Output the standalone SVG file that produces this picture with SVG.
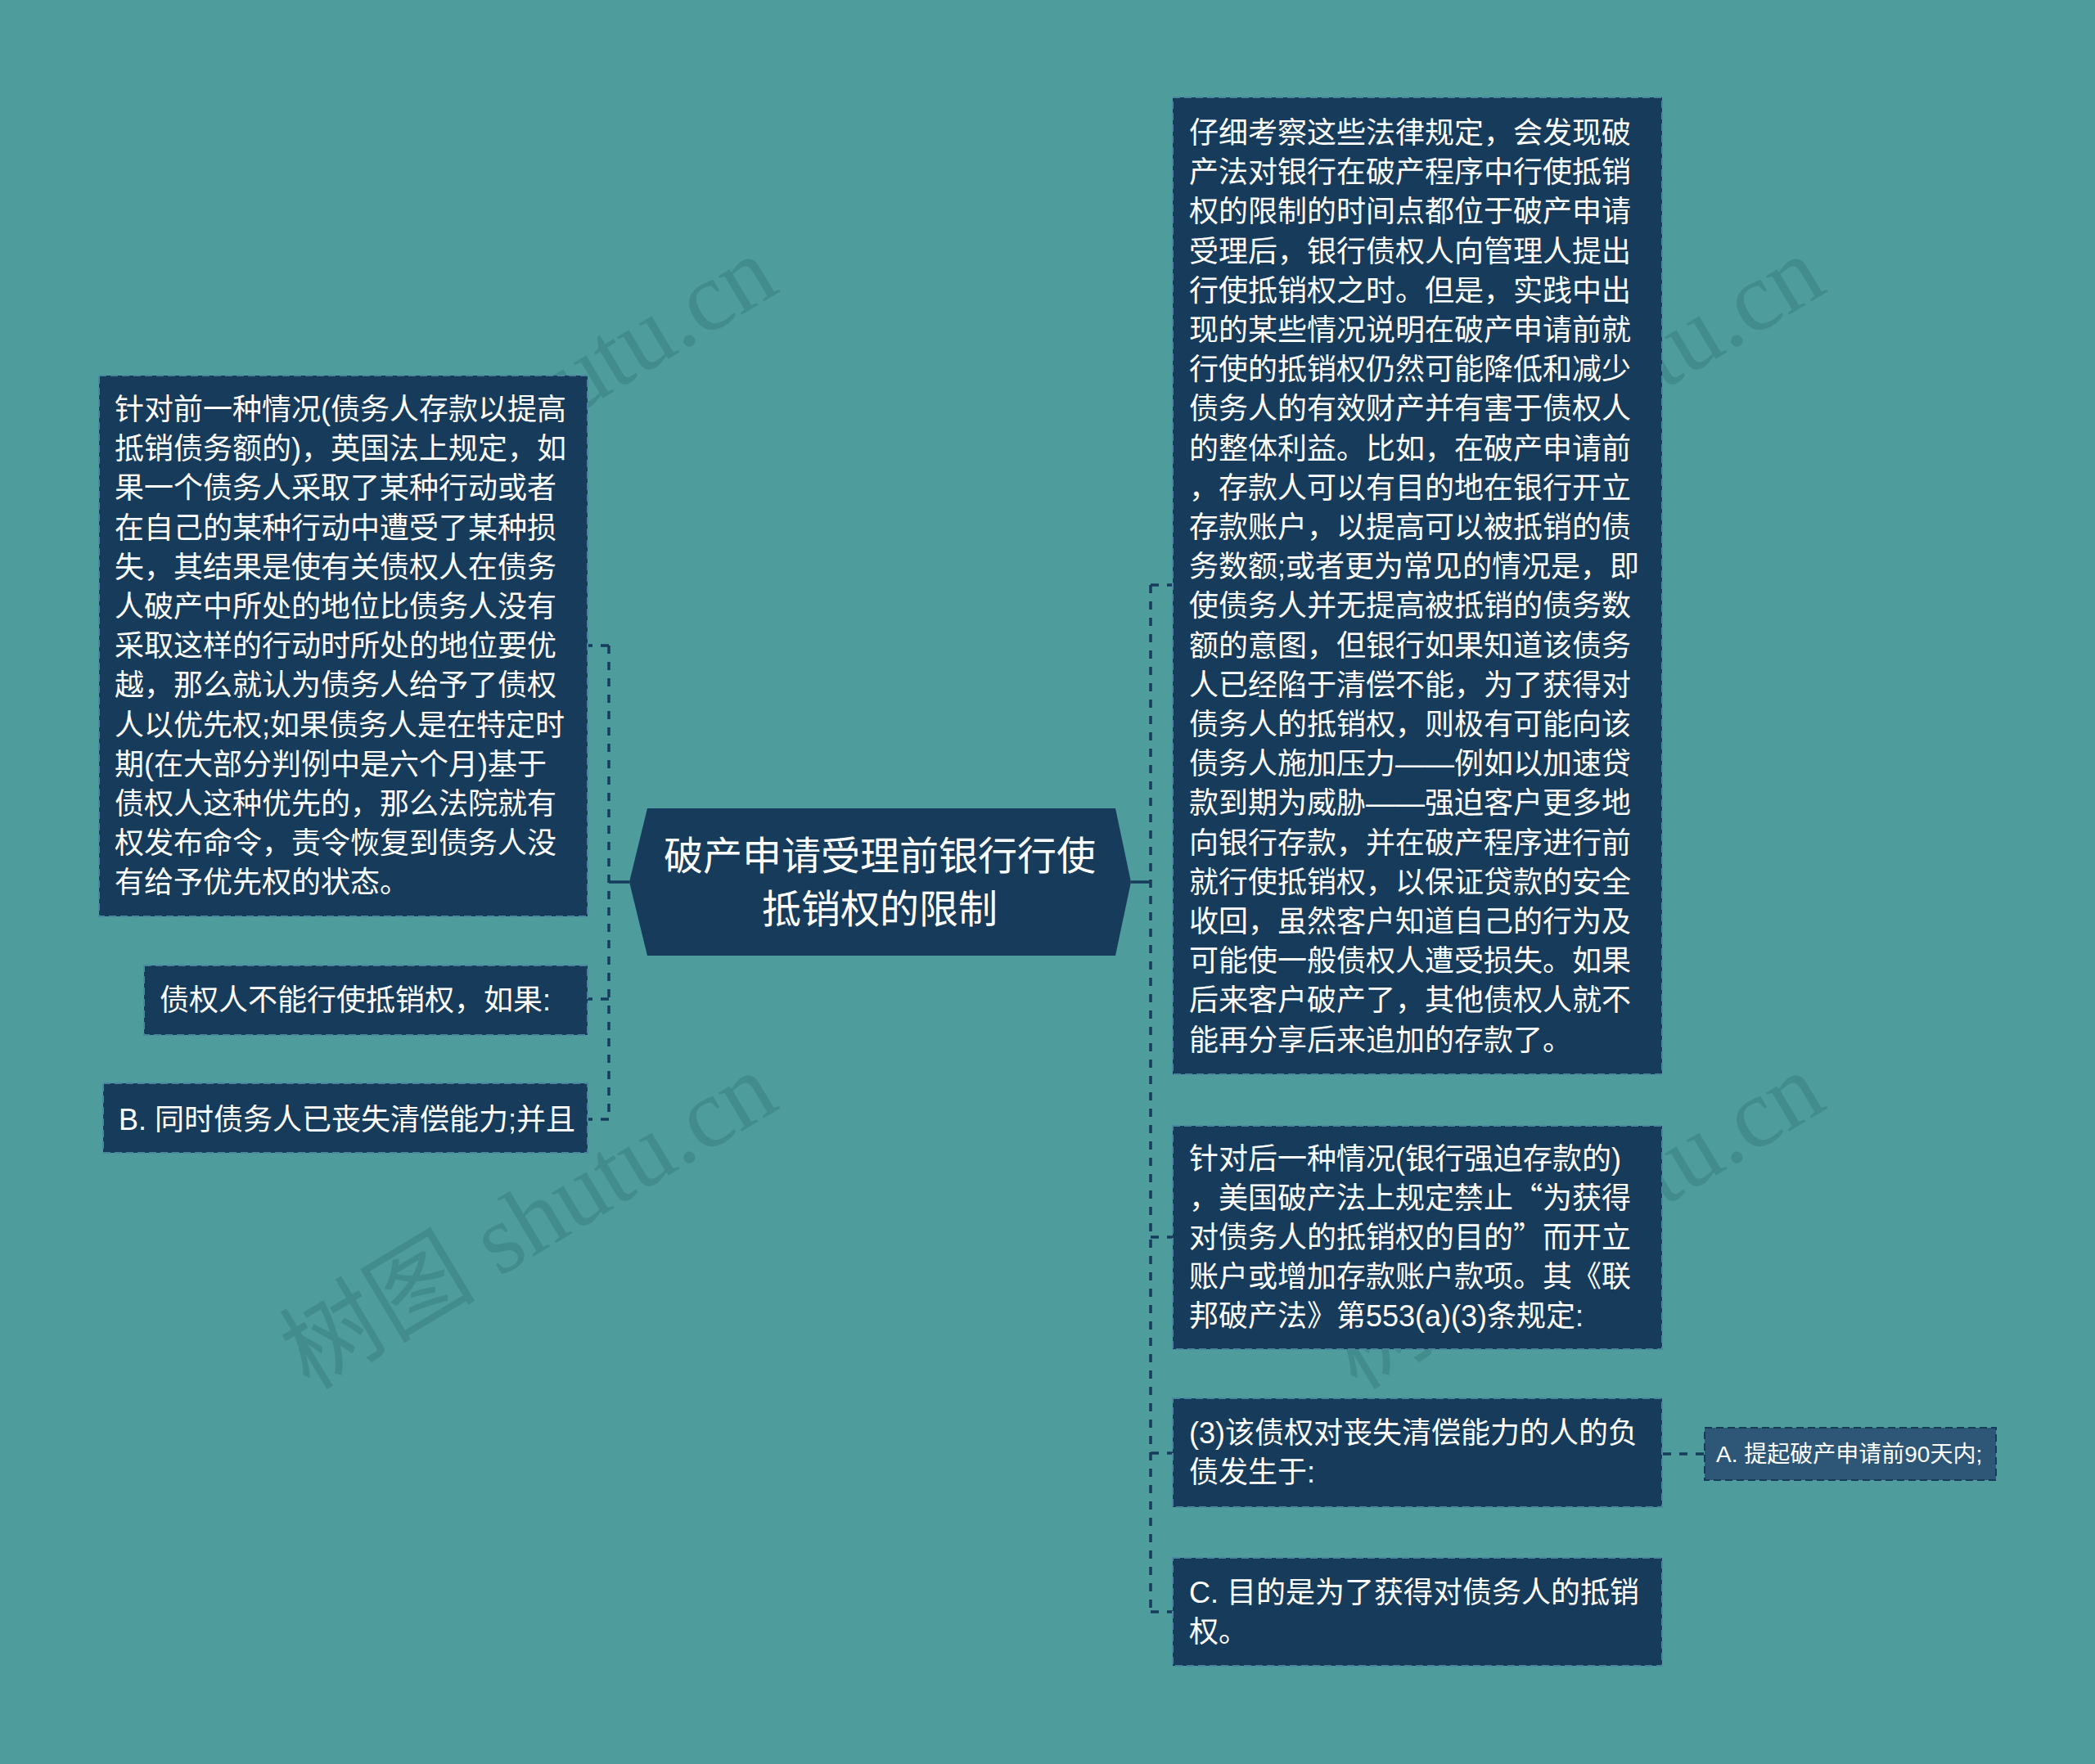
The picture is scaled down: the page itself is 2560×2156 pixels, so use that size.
<svg xmlns="http://www.w3.org/2000/svg" width="2560" height="2156" viewBox="0 0 2560 2156">
<style>
.bg{fill:#4e9c9c}
.wm{fill:#428c8e;font-family:"Liberation Serif","Noto Sans CJK SC",serif;font-size:120px}
.box{fill:#173c5b;stroke:#4a86a0;stroke-width:2;stroke-dasharray:9 5}
.boxA{fill:#2e5777;stroke:#173c5b;stroke-width:2;stroke-dasharray:9 5}
.t{fill:#ffffff;font-family:"Liberation Sans","Noto Sans CJK SC",sans-serif;font-size:36px}
.tc{fill:#ffffff;font-family:"Liberation Sans","Noto Sans CJK SC",sans-serif;font-size:48px;text-anchor:middle}
.ta{fill:#ffffff;font-family:"Liberation Sans","Noto Sans CJK SC",sans-serif;font-size:28px}
.q{font-family:"Noto Sans CJK SC",sans-serif}
.c{fill:none;stroke:#173c5b;stroke-width:3.5;stroke-dasharray:10 10}
.cs{fill:none;stroke:#173c5b;stroke-width:3.5}
</style>
<rect class="bg" x="0" y="0" width="2560" height="2156"/>
<g id="watermark">
<text class="wm" x="378" y="702" transform="rotate(-31 378 702)">树图 shutu.cn</text>
<text class="wm" x="1658" y="702" transform="rotate(-31 1658 702)">树图 shutu.cn</text>
<text class="wm" x="378" y="1700" transform="rotate(-31 378 1700)">树图 shutu.cn</text>
<text class="wm" x="1658" y="1700" transform="rotate(-31 1658 1700)">树图 shutu.cn</text>
</g>
<g id="connectors">
<path class="cs" d="M769 1078 H744"/>
<path class="c" d="M744 789 V1368"/>
<path class="c" d="M744 789 H718"/>
<path class="c" d="M744 1221 H718"/>
<path class="c" d="M744 1368 H718"/>
<path class="cs" d="M1382 1078 H1406"/>
<path class="c" d="M1406 715 V1970"/>
<path class="c" d="M1406 715 H1433"/>
<path class="c" d="M1406 1512 H1433"/>
<path class="c" d="M1406 1776 H1433"/>
<path class="c" d="M1406 1970 H1433"/>
<path class="c" d="M2032 1777 H2083"/>
</g>
<g id="root">
<polygon fill="#173c5b" points="769,1078 791,988 1363,988 1382,1078 1363,1168 791,1168"/>
<text class="tc" x="1075" y="1063">破产申请受理前银行行使</text>
<text class="tc" x="1075" y="1128">抵销权的限制</text>
</g>
<g id="left-big">
<rect class="box" x="121" y="459" width="597" height="661"/>
<text class="t" x="140" y="513">针对前一种情况(债务人存款以提高</text>
<text class="t" x="140" y="561">抵销债务额的)，英国法上规定，如</text>
<text class="t" x="140" y="609">果一个债务人采取了某种行动或者</text>
<text class="t" x="140" y="658">在自己的某种行动中遭受了某种损</text>
<text class="t" x="140" y="706">失，其结果是使有关债权人在债务</text>
<text class="t" x="140" y="754">人破产中所处的地位比债务人没有</text>
<text class="t" x="140" y="802">采取这样的行动时所处的地位要优</text>
<text class="t" x="140" y="850">越，那么就认为债务人给予了债权</text>
<text class="t" x="140" y="899">人以优先权;如果债务人是在特定时</text>
<text class="t" x="140" y="947">期(在大部分判例中是六个月)基于</text>
<text class="t" x="140" y="995">债权人这种优先的，那么法院就有</text>
<text class="t" x="140" y="1043">权发布命令，责令恢复到债务人没</text>
<text class="t" x="140" y="1091">有给予优先权的状态。</text>
</g>
<g id="left-cond">
<rect class="box" x="176" y="1180" width="542" height="85"/>
<text class="t" x="195" y="1235">债权人不能行使抵销权，如果:</text>
</g>
<g id="left-b">
<rect class="box" x="126" y="1324" width="592" height="85"/>
<text class="t" x="145" y="1381">B. 同时债务人已丧失清偿能力;并且</text>
</g>
<g id="right-big">
<rect class="box" x="1433" y="119" width="598" height="1194"/>
<text class="t" x="1453" y="175">仔细考察这些法律规定，会发现破</text>
<text class="t" x="1453" y="223">产法对银行在破产程序中行使抵销</text>
<text class="t" x="1453" y="271">权的限制的时间点都位于破产申请</text>
<text class="t" x="1453" y="320">受理后，银行债权人向管理人提出</text>
<text class="t" x="1453" y="368">行使抵销权之时。但是，实践中出</text>
<text class="t" x="1453" y="416">现的某些情况说明在破产申请前就</text>
<text class="t" x="1453" y="464">行使的抵销权仍然可能降低和减少</text>
<text class="t" x="1453" y="512">债务人的有效财产并有害于债权人</text>
<text class="t" x="1453" y="561">的整体利益。比如，在破产申请前</text>
<text class="t" x="1453" y="609">，存款人可以有目的地在银行开立</text>
<text class="t" x="1453" y="657">存款账户，以提高可以被抵销的债</text>
<text class="t" x="1453" y="705">务数额;或者更为常见的情况是，即</text>
<text class="t" x="1453" y="753">使债务人并无提高被抵销的债务数</text>
<text class="t" x="1453" y="802">额的意图，但银行如果知道该债务</text>
<text class="t" x="1453" y="850">人已经陷于清偿不能，为了获得对</text>
<text class="t" x="1453" y="898">债务人的抵销权，则极有可能向该</text>
<text class="t" x="1453" y="946">债务人施加压力——例如以加速贷</text>
<text class="t" x="1453" y="994">款到期为威胁——强迫客户更多地</text>
<text class="t" x="1453" y="1043">向银行存款，并在破产程序进行前</text>
<text class="t" x="1453" y="1091">就行使抵销权，以保证贷款的安全</text>
<text class="t" x="1453" y="1139">收回，虽然客户知道自己的行为及</text>
<text class="t" x="1453" y="1187">可能使一般债权人遭受损失。如果</text>
<text class="t" x="1453" y="1235">后来客户破产了，其他债权人就不</text>
<text class="t" x="1453" y="1284">能再分享后来追加的存款了。</text>
</g>
<g id="right-us">
<rect class="box" x="1433" y="1376" width="598" height="273"/>
<text class="t" x="1453" y="1429">针对后一种情况(银行强迫存款的)</text>
<text class="t" x="1453" y="1477">，美国破产法上规定禁止<tspan class="q">“</tspan>为获得</text>
<text class="t" x="1453" y="1525">对债务人的抵销权的目的<tspan class="q">”</tspan>而开立</text>
<text class="t" x="1453" y="1573">账户或增加存款账户款项。其《联</text>
<text class="t" x="1453" y="1621">邦破产法》第553(a)(3)条规定:</text>
</g>
<g id="right-3">
<rect class="box" x="1433" y="1709" width="598" height="133"/>
<text class="t" x="1453" y="1764">(3)该债权对丧失清偿能力的人的负</text>
<text class="t" x="1453" y="1812">债发生于:</text>
</g>
<g id="right-a">
<rect class="boxA" x="2083" y="1745" width="356" height="64"/>
<text class="ta" x="2097" y="1787">A. 提起破产申请前90天内;</text>
</g>
<g id="right-c">
<rect class="box" x="1433" y="1904" width="598" height="132"/>
<text class="t" x="1453" y="1959">C. 目的是为了获得对债务人的抵销</text>
<text class="t" x="1453" y="2007">权。</text>
</g>
</svg>
